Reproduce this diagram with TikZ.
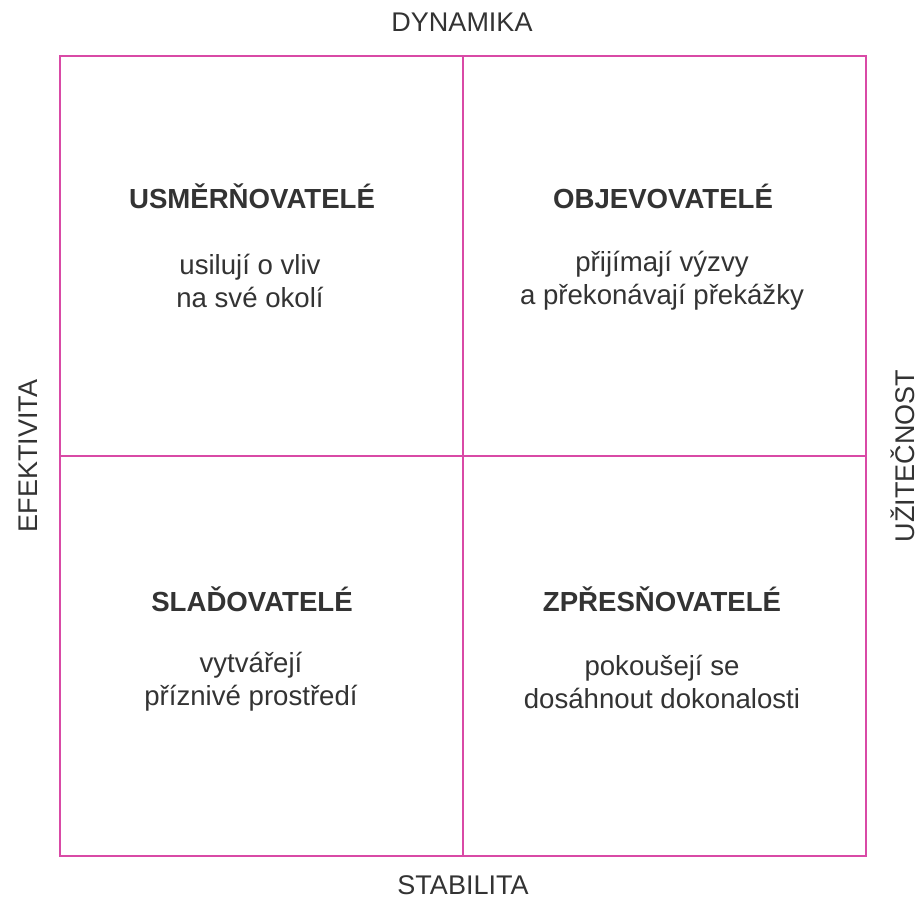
\documentclass[tikz,border=0pt]{standalone}
\usepackage{fontspec}
\setmainfont{Liberation Sans}
\definecolor{frame}{HTML}{D94AA6}
\definecolor{txt}{HTML}{333333}
\begin{document}
\begin{tikzpicture}[x=1pt,y=-1pt,
  axis/.style={text=txt,font=\fontsize{27}{32}\selectfont,inner sep=0pt},
  head/.style={text=txt,font=\fontsize{27.6}{32}\selectfont\bfseries,inner sep=0pt},
  body/.style={text=txt,font=\fontsize{27.6}{33}\selectfont,align=center,inner sep=0pt},
  line/.style={draw=frame,line width=2pt}]
\useasboundingbox (0,0) rectangle (920,899);
\fill[white] (0,0) rectangle (920,899);
\coordinate (tl) at (60,56);
\coordinate (br) at (866,856);
\coordinate (tm) at (463,56);
\coordinate (bm) at (463,856);
\coordinate (lm) at (60,456);
\coordinate (rm) at (866,456);
\draw[line] (tl) rectangle (br);
\draw[line] (tm) -- (bm);
\draw[line] (lm) -- (rm);
\node[axis] (dyn) at (462,22) {DYNAMIKA};
\node[axis] (stab) at (463,885) {STABILITA};
\node[axis,rotate=90] (efek) at (28,456) {EFEKTIVITA};
\node[axis,rotate=90] (uzit) at (903,456) {UŽITEČNOST};
\node[head] (h1) at (252,196) {USMĚRŇOVATELÉ};
\node[body] (b1) at (250,281) {usilují o vliv\\na své okolí};
\node[head] (h2) at (663,196) {OBJEVOVATELÉ};
\node[body] (b2) at (662,281) {přijímají výzvy\\a překonávají překážky};
\node[head] (h3) at (252,599) {SLAĎOVATELÉ};
\node[body] (b3) at (251,682) {vytvářejí\\příznivé prostředí};
\node[head] (h4) at (662,599) {ZPŘESŇOVATELÉ};
\node[body] (b4) at (662,682) {pokoušejí se\\dosáhnout dokonalosti};
\end{tikzpicture}
\end{document}
